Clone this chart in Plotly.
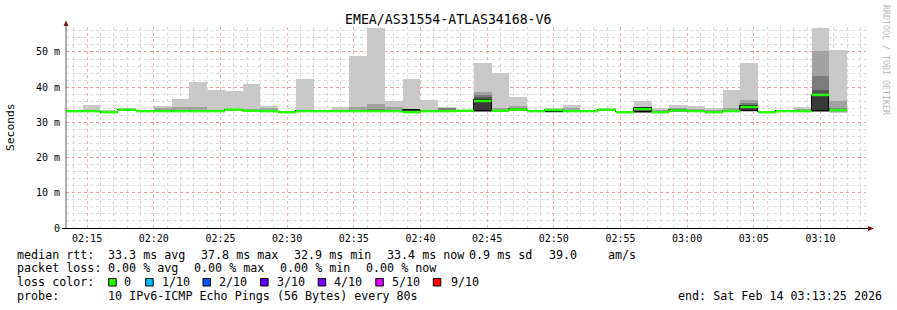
import plotly.graph_objects as go
import pandas as pd

# ---------------- data ----------------
title = "EMEA/AS31554-ATLAS34168-V6"
step_seconds = 80
first_step_end = "2026-02-14 02:14:40"
n_steps = 44
range_start = "2026-02-14 02:13:25"
range_end = "2026-02-14 03:13:25"

median = [33.2, 33.2, 32.9, 33.6, 33.2, 33.2, 33.2, 33.2, 33.2, 33.6, 33.3, 33.2,
          32.9, 33.2, 33.2, 33.2, 33.2, 33.2, 33.2, 32.9, 33.2, 33.2, 33.3, 36.1,
          33.3, 33.7, 33.2, 33.5, 33.2, 33.2, 33.6, 32.9, 33.8, 32.9, 33.4, 33.2,
          32.9, 33.2, 34.4, 32.9, 33.2, 33.2, 37.8, 33.5]
ping1 = [33.0, 33.0, 32.7, 33.3, 33.0, 33.0, 33.0, 33.0, 33.0, 33.3, 33.0, 33.0,
         32.7, 33.0, 33.0, 33.0, 33.0, 33.0, 33.0, 32.7, 33.0, 33.0, 33.1, 32.9,
         33.0, 33.4, 33.0, 32.8, 33.0, 33.0, 33.4, 32.7, 32.7, 32.7, 33.1, 33.0,
         32.7, 33.0, 33.0, 32.7, 33.0, 33.0, 32.9, 32.8]
ping2 = [33.1, 33.1, 32.8, 33.4, 33.1, 33.1, 33.1, 33.1, 33.1, 33.4, 33.1, 33.1,
         32.8, 33.1, 33.1, 33.1, 33.1, 33.1, 33.1, 32.8, 33.1, 33.1, 33.2, 33.0,
         33.1, 33.5, 33.1, 32.9, 33.1, 33.1, 33.5, 32.8, 32.8, 32.8, 33.2, 33.1,
         32.8, 33.1, 33.1, 32.8, 33.1, 33.1, 33.0, 33.0]
ping3 = [33.1, 33.1, 32.8, 33.5, 33.1, 33.1, 33.1, 33.1, 33.1, 33.5, 33.2, 33.1,
         32.8, 33.1, 33.1, 33.1, 33.1, 33.1, 33.1, 32.8, 33.1, 33.1, 33.2, 33.0,
         33.2, 33.5, 33.1, 32.9, 33.1, 33.1, 33.5, 32.8, 32.8, 32.8, 33.2, 33.1,
         32.8, 33.1, 33.1, 32.8, 33.1, 33.1, 33.05, 33.1]
ping4 = [33.1, 33.2, 32.9, 33.5, 33.2, 33.2, 33.2, 33.2, 33.2, 33.5, 33.2, 33.2,
         32.9, 33.2, 33.2, 33.2, 33.2, 33.2, 33.2, 32.9, 33.2, 33.2, 33.3, 33.1,
         33.2, 33.6, 33.2, 32.9, 33.2, 33.2, 33.6, 32.9, 32.85, 32.9, 33.3, 33.2,
         32.9, 33.2, 33.2, 32.9, 33.2, 33.2, 33.1, 33.2]
ping5 = [33.2, 33.2, 32.9, 33.6, 33.2, 33.2, 33.2, 33.2, 33.2, 33.6, 33.3, 33.2,
         32.9, 33.2, 33.2, 33.2, 33.2, 33.2, 33.2, 32.9, 33.2, 33.2, 33.3, 33.1,
         33.3, 33.7, 33.2, 33.0, 33.2, 33.2, 33.6, 32.9, 32.9, 32.9, 33.4, 33.2,
         32.9, 33.2, 33.2, 32.9, 33.2, 33.2, 33.1, 33.4]
ping6 = [33.2, 33.2, 32.9, 33.6, 33.2, 33.2, 33.2, 33.2, 33.2, 33.6, 33.3, 33.2,
         32.9, 33.2, 33.2, 33.2, 33.2, 33.3, 33.2, 33.6, 33.2, 33.2, 33.3, 36.4,
         33.3, 33.7, 33.2, 33.5, 33.2, 33.2, 33.6, 32.9, 34.1, 32.9, 33.4, 33.2,
         32.9, 33.2, 34.6, 32.9, 33.2, 33.2, 37.9, 33.6]
ping7 = [33.2, 33.3, 33.0, 33.6, 33.2, 33.3, 33.3, 33.3, 33.3, 33.7, 33.4, 33.4,
         33.0, 33.2, 33.2, 33.3, 33.3, 33.5, 33.3, 33.7, 33.3, 33.4, 33.3, 37.3,
         33.4, 33.8, 33.2, 33.6, 33.4, 33.2, 33.6, 32.9, 34.15, 33.0, 33.5, 33.3,
         33.0, 33.3, 35.0, 32.9, 33.2, 33.3, 39.3, 33.8]
ping8 = [33.3, 33.3, 33.0, 33.7, 33.3, 33.4, 33.4, 33.5, 33.4, 33.8, 33.5, 33.6,
         33.0, 33.3, 33.3, 33.4, 33.5, 33.8, 33.5, 33.8, 33.4, 34.0, 33.4, 37.8,
         33.6, 34.0, 33.3, 33.7, 33.6, 33.3, 33.7, 33.0, 34.2, 33.2, 33.7, 33.5,
         33.2, 33.6, 35.5, 33.0, 33.3, 33.5, 43.1, 34.0]
ping9 = [33.3, 33.5, 33.1, 33.8, 33.3, 34.2, 34.3, 34.4, 33.6, 33.9, 33.9, 34.0,
         33.1, 33.4, 33.3, 33.6, 34.5, 35.3, 34.3, 33.9, 33.6, 34.2, 33.4, 38.5,
         34.1, 34.6, 33.3, 33.8, 34.2, 33.3, 33.7, 33.0, 34.3, 33.6, 34.1, 33.8,
         33.4, 34.2, 36.4, 33.0, 33.3, 33.9, 50.2, 36.0]
ping10 = [33.4, 35.0, 33.5, 34.1, 33.5, 34.6, 36.7, 41.6, 39.3, 39.0, 41.0, 34.7,
          33.3, 42.4, 33.4, 34.4, 48.8, 56.9, 36.2, 42.4, 36.5, 34.5, 33.5, 47.0,
          43.9, 37.1, 33.4, 34.1, 35.0, 33.4, 33.8, 33.1, 36.2, 34.2, 35.0, 34.7,
          34.2, 39.1, 47.0, 33.1, 33.4, 34.3, 56.9, 50.6]

y_tick_values = [0, 10, 20, 30, 40, 50]
y_tick_labels = ["0", "10 m", "20 m", "30 m", "40 m", "50 m"]

loss_labels = ["0", "1/10", "2/10", "3/10", "4/10", "5/10", "9/10"]
loss_colors = ["#26ff00", "#00b8ff", "#0059ff", "#5e00ff", "#7e00ff", "#dd00ff", "#ff0000"]

legend_rows = [
    [("median rtt:", 16), ("33.3 ms avg", 107.3), ("37.8 ms max", 200.0),
     ("32.9 ms min", 293.3), ("33.4 ms now", 386.0), ("0.9 ms sd", 468.3),
     ("39.0", 548.3), ("am/s", 606.7)],
    [("packet loss:", 16), ("0.00 % avg", 107.3), ("0.00 % max", 193.3),
     ("0.00 % min", 279.3), ("0.00 % now", 365.3)],
    [("loss color:", 16)],
    [("probe:", 16), ("10 IPv6-ICMP Echo Pings (56 Bytes) every 80s", 107.3),
     ("end: Sat Feb 14 03:13:25 2026", 677.3)],
]

# ---------------- layout geometry ----------------
W, H = 897, 310
L, R, T, B = 66, 31, 27, 82
PW, PH = W - L - R, H - T - B
MONO = "DejaVu Sans Mono"


def pxx(x):
    return (x - L) / PW


def pxy(y):
    return (T + PH - y) / PH


times = pd.date_range(first_step_end, periods=n_steps, freq=f"{step_seconds}s")
step_ms = step_seconds * 1000

pings = [ping1, ping2, ping3, ping4, ping5, ping6, ping7, ping8, ping9, ping10]
band_colors = ["#c9c9c9", "#a2a2a2", "#7c7c7c", "#565656", "#3a3a3a"]

fig = go.Figure()
for i in range(5):
    lo = pings[i]
    hi = pings[9 - i]
    fig.add_trace(go.Bar(
        x=times, base=lo, y=[h - l for h, l in zip(hi, lo)],
        width=step_ms, offset=-step_ms,
        marker=dict(color=band_colors[i],
                    line=dict(width=1 if i == 4 else 0, color="#000000")),
        showlegend=False, hoverinfo="skip"))

mx, my = [], []
for t, m in zip(times, median):
    mx += [t - pd.Timedelta(seconds=step_seconds), t, None]
    my += [m, m, None]
fig.add_trace(go.Scatter(x=mx, y=my, mode="lines",
                         line=dict(color=loss_colors[0], width=2.5),
                         showlegend=False, hoverinfo="skip"))

major_grid = "rgba(240,110,110,0.55)"
minor_grid = "#d9d9d9"

fig.update_layout(
    width=W, height=H,
    margin=dict(l=L, r=R, t=T, b=B, pad=0),
    paper_bgcolor="white", plot_bgcolor="white",
    barmode="overlay", bargap=0,
    font=dict(family=MONO, size=10, color="#000000"),
    xaxis=dict(
        type="date", range=[range_start, range_end],
        tickformat="%H:%M", tick0="2026-02-14 02:15:00", dtick=300000,
        showgrid=True, gridcolor=major_grid, griddash="dot", gridwidth=1,
        minor=dict(dtick=60000, tick0="2026-02-14 02:15:00", showgrid=True,
                   gridcolor=minor_grid, griddash="dot", gridwidth=1),
        showline=False, zeroline=False, ticks="",
        tickfont=dict(family=MONO, size=10, color="#000000"),
        ticklabelstandoff=3,
        fixedrange=True,
    ),
    yaxis=dict(
        range=[0, 57.1], tickvals=y_tick_values, ticktext=y_tick_labels,
        showgrid=True, gridcolor=major_grid, griddash="dot", gridwidth=1,
        minor=dict(dtick=2, showgrid=True, gridcolor=minor_grid,
                   griddash="dot", gridwidth=1),
        showline=False, zeroline=False, ticks="",
        tickfont=dict(family=MONO, size=10, color="#000000"),
        ticklabelstandoff=5,
        fixedrange=True,
    ),
)

shapes = []
# axis lines
shapes.append(dict(type="line", xref="paper", yref="paper",
                   x0=pxx(66), x1=pxx(66), y0=pxy(228.5), y1=pxy(24),
                   line=dict(color="#606060", width=1)))
shapes.append(dict(type="line", xref="paper", yref="paper",
                   x0=pxx(62), x1=pxx(869), y0=pxy(228.5), y1=pxy(228.5),
                   line=dict(color="#000000", width=1.2)))
# arrows
shapes.append(dict(type="path", xref="paper", yref="paper",
                   path=f"M {pxx(63.5)} {pxy(26)} L {pxx(68.5)} {pxy(26)} L {pxx(66)} {pxy(20.5)} Z",
                   fillcolor="#7f1010", line=dict(width=0)))
shapes.append(dict(type="path", xref="paper", yref="paper",
                   path=f"M {pxx(868)} {pxy(226)} L {pxx(868)} {pxy(231)} L {pxx(874)} {pxy(228.5)} Z",
                   fillcolor="#7f1010", line=dict(width=0)))

# loss colour boxes
box_x = [108.7, 145.7, 203.0, 260.6, 318.2, 375.8, 433.3]
label_x = [123.3, 160.7, 218.0, 275.7, 333.3, 390.7, 449.5]
for bx, col in zip(box_x, loss_colors):
    shapes.append(dict(type="rect", xref="paper", yref="paper",
                       x0=pxx(bx), x1=pxx(bx + 7.5), y0=pxy(286), y1=pxy(278.5),
                       fillcolor=col, line=dict(color="#000000", width=1)))

annotations = []
annotations.append(dict(text=title, x=pxx(447.5), y=pxy(19.5), xref="paper", yref="paper",
                        showarrow=False, xanchor="center", yanchor="middle",
                        font=dict(family=MONO, size=13.2, color="#000000"), borderpad=0))
annotations.append(dict(text="Seconds", x=pxx(11), y=pxy(127), xref="paper", yref="paper",
                        showarrow=False, xanchor="center", yanchor="middle", textangle=-90,
                        font=dict(family=MONO, size=11.3, color="#000000"), borderpad=0))
annotations.append(dict(text="RRDTOOL / TOBI OETIKER", x=pxx(886), y=pxy(60), xref="paper",
                        yref="paper", showarrow=False, xanchor="center", yanchor="middle",
                        textangle=90, font=dict(family=MONO, size=8.3, color="#b8b8b8"),
                        borderpad=0))

row_y = [254.5, 268.3, 282.3, 296.3]
for ry, row in zip(row_y, legend_rows):
    for txt, tx in row:
        annotations.append(dict(text=txt, x=pxx(tx), y=pxy(ry), xref="paper", yref="paper",
                                showarrow=False, xanchor="left", yanchor="middle",
                                font=dict(family=MONO, size=11.7, color="#000000"),
                                borderpad=0))
for lx, lab in zip(label_x, loss_labels):
    annotations.append(dict(text=lab, x=pxx(lx), y=pxy(row_y[2]), xref="paper", yref="paper",
                            showarrow=False, xanchor="left", yanchor="middle",
                            font=dict(family=MONO, size=11.7, color="#000000"), borderpad=0))

fig.update_layout(shapes=shapes, annotations=annotations)
fig.write_html("out.html")
